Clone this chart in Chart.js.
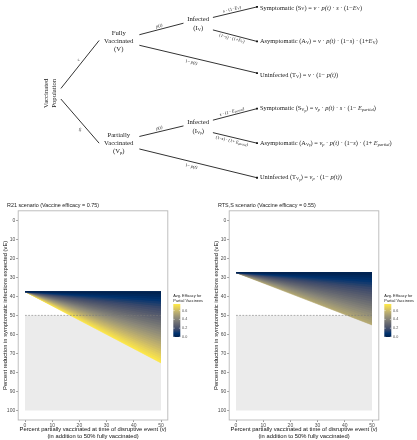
<!DOCTYPE html>
<html>
<head>
<meta charset="utf-8">
<script src="https://cdn.jsdelivr.net/npm/chart.js@4.4.0/dist/chart.umd.min.js"></script>
<style>
  html, body { margin: 0; padding: 0; background: #fff; overflow: hidden; width: 417px; height: 440px; }
  canvas { position: absolute; }
  #tree { left: 0; top: 0; }
  #r21 { left: 0; top: 200px; }
  #rts { left: 211px; top: 200px; }
</style>
</head>
<body>
<canvas id="tree" width="417" height="200"></canvas>
<canvas id="r21" width="208" height="240"></canvas>
<canvas id="rts" width="206" height="240"></canvas>
<script>
// ---- data for the two scenario panels ----
const vSpan = [0, 50];            // percent partially vaccinated (x)
const threshold = 50;             // dashed reference line
const grayBand = [50, 100];       // shaded region
const xTicks = [0, 10, 20, 30, 40, 50];
const yTicks = [0, 10, 20, 30, 40, 50, 60, 70, 80, 90, 100];
const legendTicks = [0, 0.2, 0.4, 0.6];
const effMax = 0.75;

// R21 (VE = 0.75): every ray starts at 37.5 when v = 0
const r21Start = 37.5;
const r21Efficacy = [0, 0.025, 0.05, 0.075, 0.1, 0.125, 0.15, 0.175, 0.2, 0.225, 0.25, 0.275, 0.3, 0.325, 0.35, 0.375,
  0.4, 0.425, 0.45, 0.475, 0.5, 0.525, 0.55, 0.575, 0.6, 0.625, 0.65, 0.675, 0.7, 0.725, 0.75];
const r21End = [37.5, 38.75, 40, 41.25, 42.5, 43.75, 45, 46.25, 47.5, 48.75, 50, 51.25, 52.5, 53.75, 55, 56.25,
  57.5, 58.75, 60, 61.25, 62.5, 63.75, 65, 66.25, 67.5, 68.75, 70, 71.25, 72.5, 73.75, 75];

// RTS,S (VE = 0.55): every ray starts at 27.5 when v = 0
const rtsStart = 27.5;
const rtsEfficacy = [0, 0.025, 0.05, 0.075, 0.1, 0.125, 0.15, 0.175, 0.2, 0.225, 0.25, 0.275, 0.3, 0.325, 0.35, 0.375,
  0.4, 0.425, 0.45, 0.475, 0.5, 0.525, 0.55];
const rtsEnd = [27.5, 28.75, 30, 31.25, 32.5, 33.75, 35, 36.25, 37.5, 38.75, 40, 41.25, 42.5, 43.75, 45, 46.25,
  47.5, 48.75, 50, 51.25, 52.5, 53.75, 55];

// ---- tree diagram ----
const treeNodes = [
  { at: [47, 93], rot: -90, gap: 8, lines: [[['Vaccinated']], [['Population']]] },
  { at: [117, 38.7], gap: 7.8, lines: [[['Fully']], [['Vaccinated']], [['(V)']]] },
  { at: [117, 145.2], gap: 7.8, lines: [[['Partially']], [['Vaccinated']], [['(V'], ['p', '_'], [')']]] },
  { at: [198, 20.5], gap: 9, lines: [[['Infected']], [['(I'], ['V', '_'], [')']]] },
  { at: [198, 127.5], gap: 9, lines: [[['Infected']], [['(I'], ['V', '_'], ['p', '__'], [')']]] }
];

const treeEdges = [
  { from: [58, 88], to: [97, 38], t: 0.54, off: 4, label: [['v', 'i']] },
  { from: [58, 99], to: [97, 145], t: 0.61, off: -5, label: [['v', 'i'], ['p', '_i']] },
  { from: [138, 32], to: [183, 20], t: 0.47, off: 3.5, label: [['p(t)', 'i']] },
  { from: [138, 43], to: [258, 72], t: 0.45, off: -4.5, leaf: true, label: [['1− '], ['p(t)', 'i']] },
  { from: [213, 14], to: [258, 3], t: 0.45, off: 3.5, leaf: true, label: [['s', 'i'], [' · (1−'], ['E', 'i'], ['V', '_'], [')']] },
  { from: [213, 27], to: [258, 39], t: 0.45, off: -3.5, leaf: true, label: [['(1−'], ['s', 'i'], [') · (1+'], ['E', 'i'], ['V', '_'], [')']] },
  { from: [138, 138], to: [183, 127], t: 0.47, off: 3.5, label: [['p(t)', 'i']] },
  { from: [138, 151], to: [258, 181], t: 0.45, off: -4.5, leaf: true, label: [['1− '], ['p(t)', 'i']] },
  { from: [213, 121], to: [258, 109], t: 0.45, off: 3.5, leaf: true, label: [['s', 'i'], [' · (1− '], ['E', 'i'], ['partial', '_i'], [')']] },
  { from: [213, 134], to: [258, 145], t: 0.45, off: -3.8, leaf: true, label: [['(1−'], ['s', 'i'], [') · (1+ '], ['E', 'i'], ['partial', '_i'], [')']] }
];

const leafTexts = [
  [261, 4, [['Symptomatic (S'], ['V', '_'], [') = '], ['v', 'i'], [' · '], ['p(t)', 'i'], [' · '], ['s', 'i'], [' · (1−'], ['E', 'i'], ['V', '_'], [')']]],
  [261, 38.5, [['Asymptomatic (A'], ['V', '_'], [') = '], ['v', 'i'], [' · '], ['p(t)', 'i'], [' · (1−'], ['s', 'i'], [') · (1+'], ['E', 'i'], ['V', '_'], [')']]],
  [261, 74, [['Uninfected (T'], ['V', '_'], [') = '], ['v', 'i'], [' · (1− '], ['p(t)', 'i'], [')']]],
  [261, 109, [['Symptomatic (S'], ['V', '_'], ['p', '__'], [') = '], ['v', 'i'], ['p', '_i'], [' · '], ['p(t)', 'i'], [' · '], ['s', 'i'], [' · (1− '], ['E', 'i'], ['partial', '_i'], [')']]],
  [261, 145, [['Asymptomatic (A'], ['V', '_'], ['p', '__'], [') = '], ['v', 'i'], ['p', '_i'], [' · '], ['p(t)', 'i'], [' · (1−'], ['s', 'i'], [') · (1+ '], ['E', 'i'], ['partial', '_i'], [')']]],
  [261, 181, [['Uninfected (T'], ['V', '_'], ['p', '__'], [') = '], ['v', 'i'], ['p', '_i'], [' · (1− '], ['p(t)', 'i'], [')']]]
];

const SERIF = '"Liberation Serif", "DejaVu Serif", serif';
const SANS = '"Liberation Sans", Arial, sans-serif';

// cividis palette
const cividis = ['#00204D', '#00336F', '#39486B', '#575C6D', '#707173', '#8A8779', '#A69D75', '#C4B56C', '#E4CF5B', '#FFEA46'];
function hex2rgb(h) { return [1, 3, 5].map(i => parseInt(h.substr(i, 2), 16)); }
function cividisAt(t) {
  t = Math.max(0, Math.min(1, t));
  const p = t * (cividis.length - 1);
  const i = Math.min(Math.floor(p), cividis.length - 2);
  const f = p - i;
  const a = hex2rgb(cividis[i]), b = hex2rgb(cividis[i + 1]);
  return 'rgb(' + a.map((v, k) => Math.round(v + (b[k] - v) * f)).join(',') + ')';
}

function drawRich(ctx, segs, x, y, size, align) {
  const parts = segs.map(([t, f = '']) => {
    const lvl = (f.match(/_/g) || []).length;
    const sz = size * Math.pow(0.68, lvl);
    const font = (f.includes('i') ? 'italic ' : '') + sz.toFixed(2) + 'px ' + SERIF;
    ctx.font = font;
    return { t, font, w: ctx.measureText(t).width, dy: lvl ? size * (0.22 + 0.14 * (lvl - 1)) : 0 };
  });
  const total = parts.reduce((s, p) => s + p.w, 0);
  let cx = align === 'center' ? x - total / 2 : x;
  ctx.textAlign = 'left';
  ctx.textBaseline = 'middle';
  parts.forEach(p => { ctx.font = p.font; ctx.fillText(p.t, cx, y + p.dy); cx += p.w; });
}

// ---- tree chart ----
const treeLabels = {
  id: 'treeLabels',
  afterDraw(chart) {
    const { ctx } = chart;
    const sx = chart.scales.x, sy = chart.scales.y;
    const px = v => sx.getPixelForValue(v), py = v => sy.getPixelForValue(v);
    ctx.save();
    ctx.fillStyle = '#1a1a1a';
    treeNodes.forEach(n => {
      ctx.save();
      ctx.translate(px(n.at[0]), py(n.at[1]));
      if (n.rot) ctx.rotate(n.rot * Math.PI / 180);
      n.lines.forEach((l, i) => drawRich(ctx, l, 0, (i - (n.lines.length - 1) / 2) * n.gap, 6.7, 'center'));
      ctx.restore();
    });
    treeEdges.forEach(e => {
      const x1 = px(e.from[0]), y1 = py(e.from[1]), x2 = px(e.to[0]), y2 = py(e.to[1]);
      const dx = x2 - x1, dy = y2 - y1, len = Math.hypot(dx, dy);
      const nx = dy / len, ny = -dx / len;
      ctx.save();
      ctx.translate(x1 + dx * e.t + nx * e.off, y1 + dy * e.t + ny * e.off);
      ctx.rotate(Math.atan2(dy, dx));
      drawRich(ctx, e.label, 0, 0, 4.5, 'center');
      ctx.restore();
    });
    leafTexts.forEach(([x, y, segs]) => drawRich(ctx, segs, px(x), py(y), 6.4, 'left'));
    ctx.restore();
  }
};

new Chart(document.getElementById('tree').getContext('2d'), {
  type: 'line',
  data: {
    datasets: treeEdges.map(e => ({
      data: [{ x: e.from[0], y: e.from[1] }, { x: e.to[0], y: e.to[1] }],
      borderColor: '#333',
      borderWidth: 1,
      pointRadius: e.leaf ? [0, 1.3] : 0,
      pointStyle: 'rect',
      pointBackgroundColor: '#111',
      pointBorderWidth: 0,
      fill: false
    }))
  },
  options: {
    responsive: false,
    animation: false,
    layout: { padding: 0 },
    plugins: { legend: { display: false }, tooltip: { enabled: false } },
    scales: {
      x: { type: 'linear', min: 0, max: 417, display: false },
      y: { type: 'linear', min: 0, max: 200, reverse: true, display: false }
    }
  },
  plugins: [treeLabels]
});

// ---- scenario panels ----
function panelDecor(title) {
  return {
    id: 'panelDecor',
    afterDraw(chart) {
      const { ctx, chartArea: a } = chart;
      ctx.save();
      // panel border
      ctx.strokeStyle = '#b8b8b8';
      ctx.lineWidth = 0.9;
      ctx.strokeRect(a.left, a.top, a.right - a.left, a.bottom - a.top);
      // title
      ctx.fillStyle = '#1a1a1a';
      ctx.font = '5.4px ' + SANS;
      ctx.textAlign = 'left';
      ctx.textBaseline = 'middle';
      ctx.fillText(title, 7, 5.5);
      // colour bar
      const bx = a.right + 5.5, bw = 7, bTop = 104, bBot = 137;
      const g = ctx.createLinearGradient(0, bBot, 0, bTop);
      cividis.forEach((c, i) => g.addColorStop(i / (cividis.length - 1), c));
      ctx.fillStyle = g;
      ctx.fillRect(bx, bTop, bw, bBot - bTop);
      ctx.strokeStyle = '#fff';
      ctx.lineWidth = 0.5;
      ctx.fillStyle = '#4d4d4d';
      ctx.font = '3.7px ' + SANS;
      legendTicks.forEach(t => {
        const y = bBot - (t / effMax) * (bBot - bTop);
        ctx.beginPath();
        ctx.moveTo(bx, y); ctx.lineTo(bx + 1.4, y);
        ctx.moveTo(bx + bw - 1.4, y); ctx.lineTo(bx + bw, y);
        ctx.stroke();
        ctx.fillText(t.toFixed(1), bx + bw + 1.8, y);
      });
      ctx.fillStyle = '#1a1a1a';
      ctx.font = '3.9px ' + SANS;
      ctx.fillText('Avg. Efficacy for', bx, 96);
      ctx.fillText('Partial Vaccinees', bx, 100.8);
      ctx.restore();
    }
  };
}

function scenarioChart(id, title, start, ends, eff, padRight) {
  const datasets = [{
    data: [{ x: vSpan[0], y: threshold }, { x: vSpan[1], y: threshold }],
    borderColor: '#7a7a7a', borderWidth: 0.6, borderDash: [1.8, 1.4], pointRadius: 0, fill: false
  }];
  const first = datasets.length;
  // each ray fills back to the first ray; higher rays drawn first, so the layers overlap without seams
  eff.forEach((e, i) => {
    const c = cividisAt((i === 0 ? e : (e + eff[i - 1]) / 2) / effMax);
    datasets.push({
      data: [{ x: vSpan[0], y: start }, { x: vSpan[1], y: ends[i] }],
      borderColor: c, backgroundColor: c, borderWidth: 0.6, pointRadius: 0,
      fill: i === 0 ? false : first
    });
  });
  datasets.push({
    data: [{ x: vSpan[0], y: grayBand[0] }, { x: vSpan[1], y: grayBand[0] }],
    borderWidth: 0, backgroundColor: '#ebebeb', pointRadius: 0, fill: { value: grayBand[1] }
  });

  const tickFont = { size: 5, family: SANS };
  const titleFont = { size: 5.8, family: SANS };
  new Chart(document.getElementById(id).getContext('2d'), {
    type: 'line',
    data: { datasets },
    options: {
      responsive: false,
      animation: false,
      layout: { padding: { top: 10.8, right: padRight, left: 0, bottom: 0 } },
      plugins: { legend: { display: false }, tooltip: { enabled: false } },
      scales: {
        x: {
          type: 'linear', min: -2.5, max: 52.5,
          afterBuildTicks: s => { s.ticks = xTicks.map(v => ({ value: v })); },
          afterFit: s => { s.height = 20; },
          ticks: { font: tickFont, color: '#4d4d4d', padding: 0.5, maxRotation: 0, autoSkip: false },
          grid: { drawOnChartArea: false, drawTicks: true, tickLength: 2, color: '#333', lineWidth: 0.5 },
          border: { display: false },
          title: {
            display: true, color: '#111', font: titleFont, padding: { top: 0, bottom: 0.5 },
            text: ['Percent partially vaccinated at time of disruptive event (v)', '(in addition to 50% fully vaccinated)']
          }
        },
        y: {
          type: 'linear', min: -5, max: 105, reverse: true,
          afterBuildTicks: s => { s.ticks = yTicks.map(v => ({ value: v })); },
          afterFit: s => { s.width = 18.2; },
          ticks: { font: tickFont, color: '#4d4d4d', padding: 1 },
          grid: { drawOnChartArea: false, drawTicks: true, tickLength: 2, color: '#333', lineWidth: 0.5 },
          border: { display: false },
          title: {
            display: true, color: '#111', font: titleFont, padding: { top: 1.5, bottom: 0 },
            text: 'Percent reduction in symptomatic infections expected (vE)'
          }
        }
      }
    },
    plugins: [panelDecor(title)]
  });
}

scenarioChart('r21', 'R21 scenario (Vaccine efficacy = 0.75)', r21Start, r21End, r21Efficacy, 40.2);
scenarioChart('rts', 'RTS,S scenario (Vaccine efficacy = 0.55)', rtsStart, rtsEnd, rtsEfficacy, 38.2);
</script>
</body>
</html>
